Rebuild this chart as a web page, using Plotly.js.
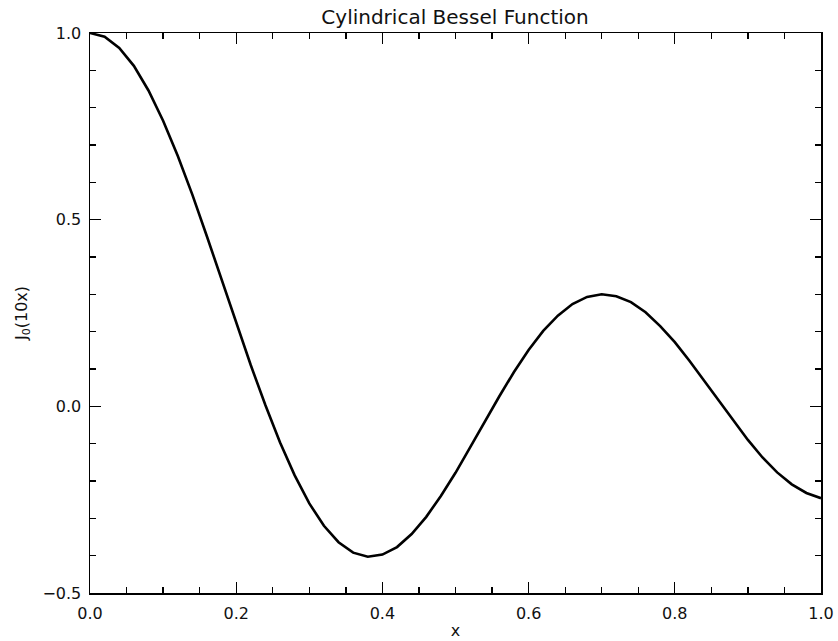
<!DOCTYPE html>
<html>
<head>
<meta charset="utf-8">
<script src="https://cdn.plot.ly/plotly-3.0.1.min.js"></script>
<style>html,body{margin:0;padding:0;background:#fff;}#chart{width:838px;height:641px;}</style>
</head>
<body>
<div id="chart"></div>
<script>
const xValues = [0.00,0.02,0.04,0.06,0.08,0.10,0.12,0.14,0.16,0.18,0.20,0.22,0.24,0.26,0.28,0.30,0.32,0.34,0.36,0.38,0.40,0.42,0.44,0.46,0.48,0.50,0.52,0.54,0.56,0.58,0.60,0.62,0.64,0.66,0.68,0.70,0.72,0.74,0.76,0.78,0.80,0.82,0.84,0.86,0.88,0.90,0.92,0.94,0.96,0.98,1.00];
const yValues = [1.000,0.990,0.960,0.912,0.846,0.765,0.671,0.567,0.455,0.340,0.224,0.110,0.003,-0.097,-0.185,-0.260,-0.320,-0.364,-0.392,-0.403,-0.397,-0.377,-0.342,-0.296,-0.240,-0.178,-0.110,-0.041,0.027,0.092,0.151,0.202,0.243,0.274,0.293,0.300,0.295,0.279,0.252,0.215,0.172,0.122,0.069,0.015,-0.039,-0.090,-0.137,-0.177,-0.209,-0.232,-0.246];
const xTickVals = [0.0,0.2,0.4,0.6,0.8,1.0];
const xTickText = ["0.0","0.2","0.4","0.6","0.8","1.0"];
const yTickVals = [-0.5,0.0,0.5,1.0];
const yTickText = ["−0.5","0.0","0.5","1.0"];

const fontFam = "DejaVu Sans, sans-serif";
const axisCommon = {
  showline: true, linecolor: '#000', linewidth: 1.5, mirror: 'ticks',
  ticks: 'inside', ticklen: 11, tickwidth: 1.3, tickcolor: '#000',
  showgrid: false, zeroline: false,
  tickfont: {family: fontFam, size: 16, color: '#111'}
};
Plotly.newPlot('chart', [{
  x: xValues, y: yValues, type: 'scatter', mode: 'lines',
  line: {color: '#000', width: 2.6}, hoverinfo: 'none'
}], {
  width: 838, height: 641,
  margin: {l: 90, r: 17, t: 33, b: 48},
  paper_bgcolor: '#fff', plot_bgcolor: '#fff',
  showlegend: false,
  title: {text: 'Cylindrical Bessel Function', x: 0.543, xanchor: 'center', y: 0.973, yanchor: 'middle', font: {family: fontFam, size: 20, color: '#111'}},
  xaxis: Object.assign({}, axisCommon, {
    range: [0, 1], tickmode: 'array', tickvals: xTickVals, ticktext: xTickText,
    ticklabelstandoff: 5,
    minor: {dtick: 0.05, ticks: 'inside', ticklen: 6, tickwidth: 1.3, tickcolor: '#000', showgrid: false},
    title: {text: 'x', font: {family: fontFam, size: 16, color: '#111'}, standoff: 3}
  }),
  yaxis: Object.assign({}, axisCommon, {
    range: [-0.5, 1.0], tickmode: 'array', tickvals: yTickVals, ticktext: yTickText,
    ticklabelstandoff: 4,
    minor: {dtick: 0.1, ticks: 'inside', ticklen: 6, tickwidth: 1.3, tickcolor: '#000', showgrid: false},
    title: {text: 'J<sub>0</sub>(10x)', font: {family: fontFam, size: 16, color: '#111'}, standoff: 11}
  })
}, {staticPlot: true});
</script>
</body>
</html>
